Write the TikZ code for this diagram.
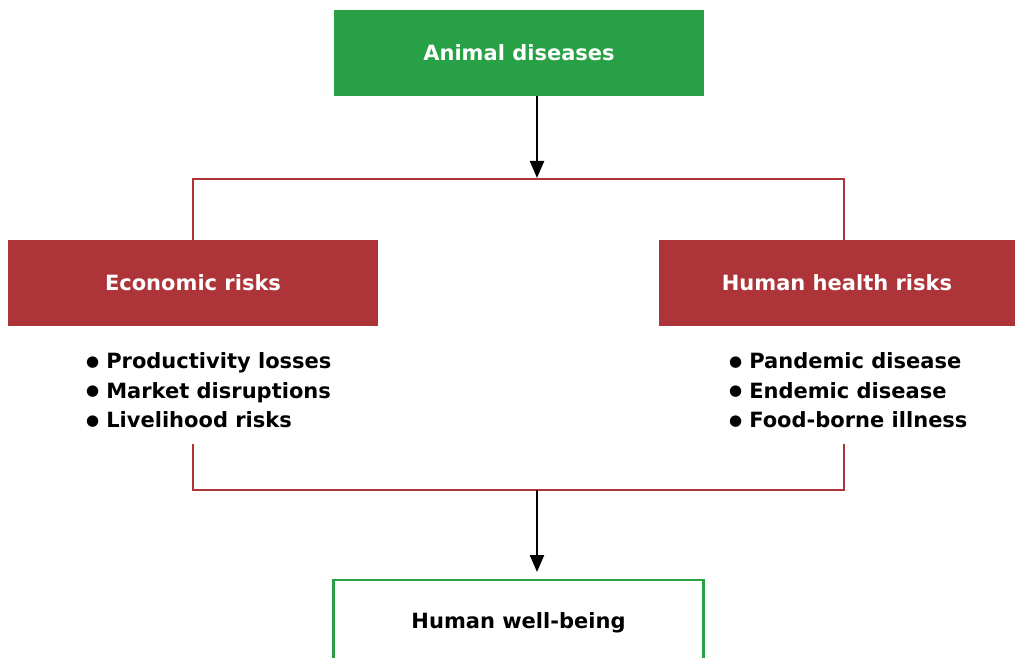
\documentclass[tikz,border=0pt]{standalone}
\usepackage{fontspec}
\setmainfont{DejaVu Sans}
\usetikzlibrary{arrows.meta}
\definecolor{boxgreen}{HTML}{28A045}
\definecolor{boxred}{HTML}{AD3539}
\newcommand{\bigdot}{\raisebox{2.5pt}{\fontsize{15}{15}\selectfont ●}\hspace{7pt}}
\tikzset{
  lbl/.style={font=\bfseries\fontsize{21}{24}\selectfont},
  greenbox/.style={lbl,fill=boxgreen,text=white,minimum width=370pt,minimum height=86pt,inner sep=0pt},
  redbox/.style={lbl,fill=boxred,text=white,minimum height=86pt,inner sep=0pt},
  outbox/.style={lbl,draw=boxgreen,line width=2.2pt,fill=white,text=black,minimum width=370pt,minimum height=100pt,inner sep=0pt},
  item/.style={lbl,anchor=base west,inner sep=0pt},
  bracket/.style={draw=boxred,line width=2.2pt},
  arr/.style={draw=black,line width=2.4pt,-{Triangle[length=17pt,width=14pt]}}
}
\begin{document}
\begin{tikzpicture}[x=1pt,y=-1pt]
\useasboundingbox (0,0) rectangle (1015,658);
\node[greenbox] (top) at (519,53) {Animal diseases};
\node[redbox,minimum width=370pt] (econ) at (193,283) {Economic risks};
\node[redbox,minimum width=356pt] (health) at (837,283) {Human health risks};
\node[outbox,anchor=north] (bottom) at (518.5,579) {};
\node[lbl] (bottomtext) at (518.5,622.5) {Human well-being};
\coordinate (jt) at (537,178);
\coordinate (tl) at (193,179);
\coordinate (tr) at (844,179);
\coordinate (bl) at (193,490);
\coordinate (br) at (844,490);
\coordinate (jb) at (537,490);
\coordinate (jbe) at (537,572);
\coordinate (blt) at (193,444);
\coordinate (brt) at (844,444);
\draw[bracket] (econ.north -| tl) -- (tl) -- (tr) -- (health.north -| tr);
\draw[bracket] (blt) -- (bl) -- (br) -- (brt);
\draw[arr] (top.south -| jt) -- (jt);
\draw[arr] (jb) -- (jbe);
\node[item] (e1) at (86,368.5) {\bigdot Productivity losses};
\node[item] (e2) at (86,398) {\bigdot Market disruptions};
\node[item] (e3) at (86,427.5) {\bigdot Livelihood risks};
\node[item] (h1) at (729,368.5) {\bigdot Pandemic disease};
\node[item] (h2) at (729,398) {\bigdot Endemic disease};
\node[item] (h3) at (729,427.5) {\bigdot Food-borne illness};
\end{tikzpicture}
\end{document}
